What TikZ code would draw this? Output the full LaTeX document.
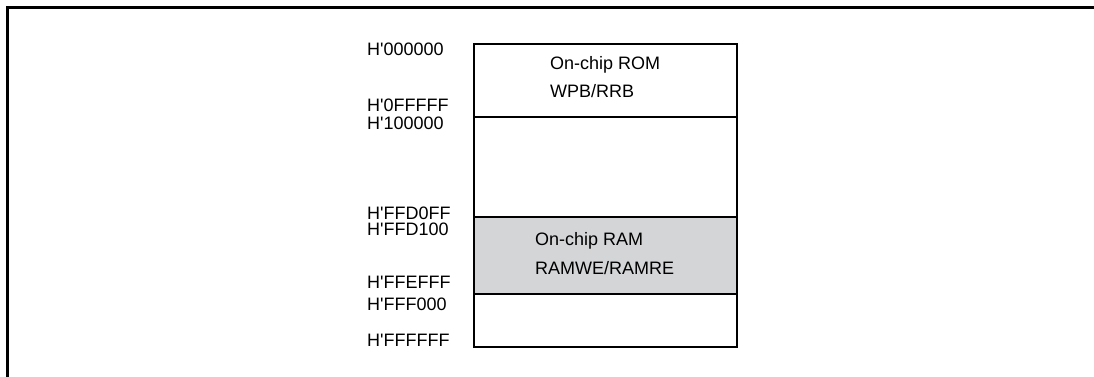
\documentclass[tikz,border=0pt]{standalone}
\usepackage{fontspec}
\setmainfont{Liberation Sans}
\definecolor{ramgray}{RGB}{212,213,215}
\newcommand{\sq}{\textquotesingle}
\begin{document}
\begin{tikzpicture}[x=1pt,y=-1pt,
  region/.style={draw=black,line width=2.2pt,rectangle,inner sep=0pt,anchor=north west,minimum width=263pt},
  addr/.style={anchor=base west,inner sep=0pt,font=\fontsize{18}{21}\selectfont},
  lbl/.style={anchor=base west,inner sep=0pt,font=\fontsize{18}{21}\selectfont}]
\useasboundingbox (0,0) rectangle (1094,376);
\draw[line width=3pt] (7,378) -- (7,7) -- (1096,7);
\node[region,minimum height=73pt] (rom) at (473,43) {};
\node[region,minimum height=100pt] (res) at (473,116) {};
\node[region,minimum height=77pt,fill=ramgray] (ram) at (473,216) {};
\node[region,minimum height=53pt] (top) at (473,293) {};
\node[lbl] (romname) at (550,69) {On-chip ROM};
\node[lbl] (romreg) at (550,97.3) {WPB/RRB};
\node[lbl] (ramname) at (535,245.7) {On-chip RAM};
\node[lbl] (ramreg) at (535,274) {RAMWE/RAMRE};
\node[addr] (a1) at (367,55.7) {H\sq000000};
\node[addr] (a2) at (367,111) {H\sq0FFFFF};
\node[addr] (a3) at (367,129.3) {H\sq100000};
\node[addr] (a4) at (367,219) {H\sq FFD0FF};
\node[addr] (a5) at (367,235.7) {H\sq FFD100};
\node[addr] (a6) at (367,288) {H\sq FFEFFF};
\node[addr] (a7) at (367,310) {H\sq FFF000};
\node[addr] (a8) at (367,346.7) {H\sq FFFFFF};
\end{tikzpicture}
\end{document}
